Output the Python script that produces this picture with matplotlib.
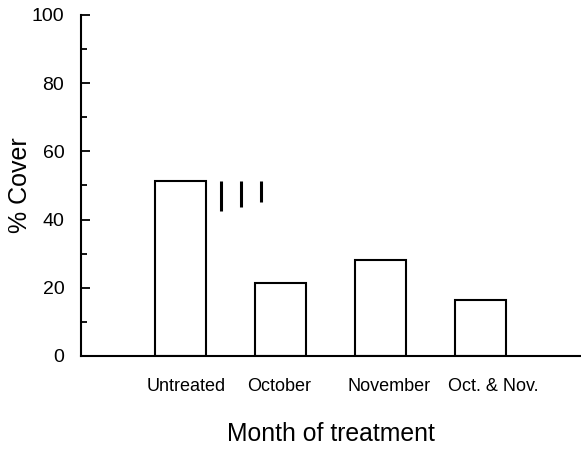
import numpy as np
import matplotlib
matplotlib.use('Agg')
import matplotlib.pyplot as plt

plt.rcParams['font.family'] = ['Liberation Sans', 'DejaVu Sans']

# Data
categories = ['Untreated', 'October', 'November', 'Oct. & Nov.']
cover = [51.4, 21.4, 28.2, 16.4]

# Loose vertical range marks next to the Untreated bar
mark_x = [1.40, 1.60, 1.80]
mark_lo = [42.6, 43.8, 45.2]
mark_hi = [51.4, 51.4, 51.4]

fig = plt.figure(figsize=(5.81, 4.5), dpi=100)
ax = fig.add_axes([0.1394, 0.2089, 0.8606, 0.7578])

x = np.arange(1, len(categories) + 1)
ax.bar(x, cover, width=0.51, color='white', edgecolor='black', linewidth=1.5, zorder=2)
ax.vlines(mark_x, mark_lo, mark_hi, color='black', linewidth=2.2)

ax.set_xlim(0, 5)
ax.set_ylim(0, 100)
ax.set_yticks([0, 20, 40, 60, 80, 100])
ax.set_yticks(np.arange(10, 100, 20), minor=True)

# labels in the original sit a little right of the bar centres
label_shift = np.array([0.05, -0.02, 0.08, 0.12])
ax.set_xticks(x + label_shift)
ax.set_xticklabels(categories, fontsize=13)

ax.tick_params(axis='y', which='major', direction='in', length=6.5, width=1.3,
               labelsize=14, pad=12)
ax.tick_params(axis='y', which='minor', direction='in', length=4, width=1.3)
ax.tick_params(axis='x', length=0, pad=16)

for side in ['top', 'right']:
    ax.spines[side].set_visible(False)
for side in ['left', 'bottom']:
    ax.spines[side].set_linewidth(1.5)

ax.set_ylabel('% Cover', fontsize=18, labelpad=0)
ax.set_xlabel('Month of treatment', fontsize=17.8, labelpad=19)

plt.savefig('out.png', dpi=100)
